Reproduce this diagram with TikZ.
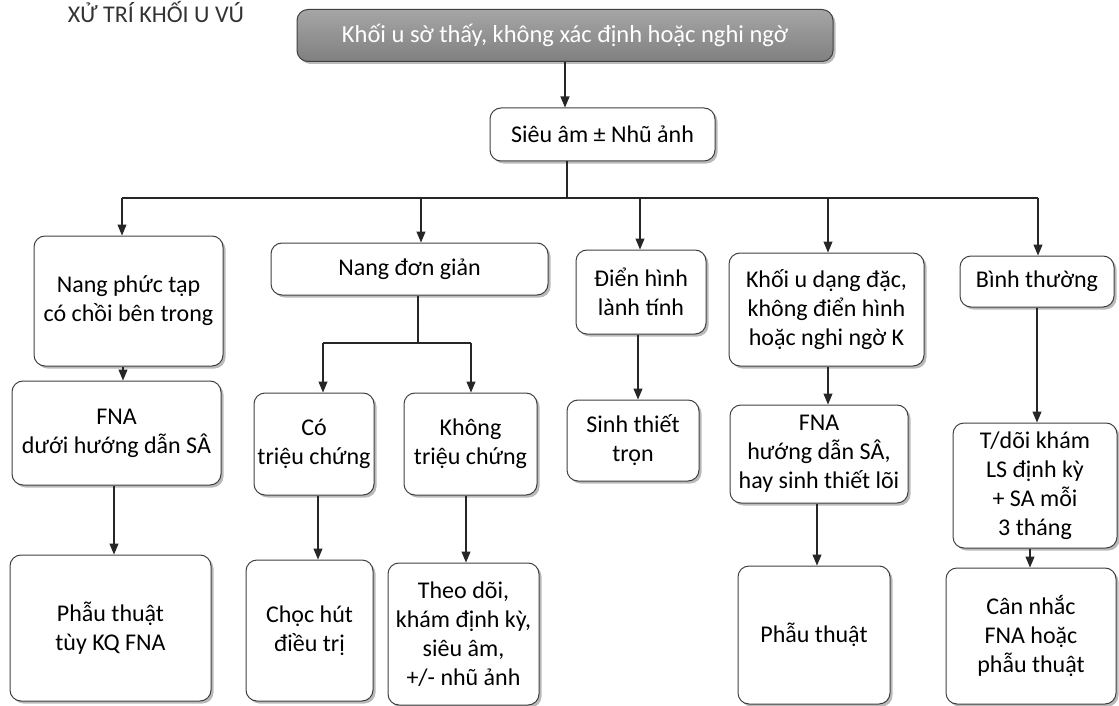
\documentclass[tikz,border=0pt]{standalone}
\usepackage{fontspec}
\setmainfont{Carlito}
\usetikzlibrary{arrows.meta,shadows}
\begin{document}
\begin{tikzpicture}[x=1pt,y=-1pt,
 box/.style={draw=black!75, line width=1pt, rounded corners=11pt, fill=white,
   drop shadow={shadow xshift=2.5pt, shadow yshift=-2.5pt, fill=black!45, opacity=0.6},
   align=center, font=\fontsize{24}{29}\selectfont, inner sep=2pt},
 topbox/.style={box, top color=black!35, bottom color=black!50, text=white, font=\fontsize{24.5}{28}\selectfont},
 arr/.style={-{Triangle[length=11pt,width=9pt]}, line width=1.1pt, draw=black!85},
 ln/.style={line width=1.1pt, draw=black!85}]
\useasboundingbox (0,0) rectangle (1119,706);

\node[anchor=north, inner sep=1pt, text=black!80, font=\fontsize{24}{25}\selectfont] (title) at (156,0) {XỬ TRÍ KHỐI U VÚ};

\node[topbox, minimum width=536pt, minimum height=52pt] (T) at (565,35.5) {Khối u sờ thấy, không xác định hoặc nghi ngờ};
\node[box, minimum width=225pt, minimum height=53pt] (S) at (602.5,134.5) {Siêu âm ± Nhũ ảnh};

\node[box, minimum width=189pt, minimum height=130pt] (B1) at (128.5,301) {Nang phức tạp\\có chồi bên trong};
\node[box, minimum width=277pt, minimum height=52pt] (B2) at (409.5,269) {Nang đơn giản};
\node[box, minimum width=130pt, minimum height=84pt] (B3) at (641,292) {Điển hình\\lành tính};
\node[box, minimum width=195pt, minimum height=113pt] (B4) at (826.5,309.5) {Khối u dạng đặc,\\không điển hình\\hoặc nghi ngờ K};
\node[box, minimum width=154pt, minimum height=51pt] (B5) at (1037,281.5) {Bình thường};

\node[box, minimum width=209pt, minimum height=104pt] (B6) at (116.5,433) {FNA\\dưới hướng dẫn SÂ};
\node[box, minimum width=120pt, minimum height=102pt] (B7) at (314,444) {Có\\triệu chứng};
\node[box, minimum width=133pt, minimum height=102pt] (B8) at (470.5,444) {Không\\triệu chứng};
\node[box, minimum width=132pt, minimum height=81pt] (B9) at (633,440.5) {Sinh thiết\\trọn};
\node[box, minimum width=178pt, minimum height=98pt] (B10) at (819,454) {FNA\\hướng dẫn SÂ,\\hay sinh thiết lõi};
\node[box, minimum width=164pt, minimum height=125pt] (B11) at (1035,485.5) {T/dõi khám\\LS định kỳ\\+ SA mỗi\\3 tháng};

\node[box, minimum width=201pt, minimum height=146pt] (B12) at (110.5,628) {Phẫu thuật\\tùy KQ FNA};
\node[box, minimum width=127pt, minimum height=141pt] (B13) at (309.5,630.5) {Chọc hút\\điều trị};
\node[box, minimum width=151pt, minimum height=142pt] (B14) at (463.5,634) {Theo dõi,\\khám định kỳ,\\siêu âm,\\+/- nhũ ảnh};
\node[box, minimum width=152pt, minimum height=138pt] (B15) at (814,635) {Phẫu thuật};
\node[box, minimum width=170pt, minimum height=136pt] (B16) at (1031,636) {Cân nhắc\\FNA hoặc\\phẫu thuật};

% top
\draw[arr] (T.south) -- (T.south |- S.north);
\coordinate (bus) at (567,198);
\draw[ln] (bus |- S.south) -- (bus);
\coordinate (d1) at (122,198);
\coordinate (d2) at (421,198);
\coordinate (d3) at (640,198);
\coordinate (d4) at (828,198);
\coordinate (d5) at (1038,198);
\draw[ln] (d1) -- (d5);
\draw[arr] (d1) -- (d1 |- B1.north);
\draw[arr] (d2) -- (d2 |- B2.north);
\draw[arr] (d3) -- (d3 |- B3.north);
\draw[arr] (d4) -- (d4 |- B4.north);
\draw[arr] (d5) -- (d5 |- B5.north);

% column 1
\coordinate (c1) at (123,0);
\draw[arr] (c1 |- B1.south) -- (c1 |- B6.north);
\coordinate (c6) at (114,0);
\draw[arr] (c6 |- B6.south) -- (c6 |- B12.north);

% column 2 split
\coordinate (sp) at (418,343);
\coordinate (sl) at (323,343);
\coordinate (sr) at (471,343);
\draw[ln] (sp |- B2.south) -- (sp);
\draw[ln] (sl) -- (sr);
\draw[arr] (sl) -- (sl |- B7.north);
\draw[arr] (sr) -- (sr |- B8.north);
\coordinate (c7) at (318,0);
\draw[arr] (c7 |- B7.south) -- (c7 |- B13.north);
\coordinate (c8) at (466,0);
\draw[arr] (c8 |- B8.south) -- (c8 |- B14.north);

% column 3
\coordinate (c3) at (638,0);
\draw[arr] (c3 |- B3.south) -- (c3 |- B9.north);

% column 4
\coordinate (c4) at (828,0);
\draw[arr] (c4 |- B4.south) -- (c4 |- B10.north);
\coordinate (c10) at (817,0);
\draw[arr] (c10 |- B10.south) -- (c10 |- B15.north);

% column 5
\coordinate (c5) at (1037,0);
\draw[arr] (c5 |- B5.south) -- (c5 |- B11.north);
\coordinate (c11) at (1030,0);
\draw[arr] (c11 |- B11.south) -- (c11 |- B16.north);
\end{tikzpicture}
\end{document}
